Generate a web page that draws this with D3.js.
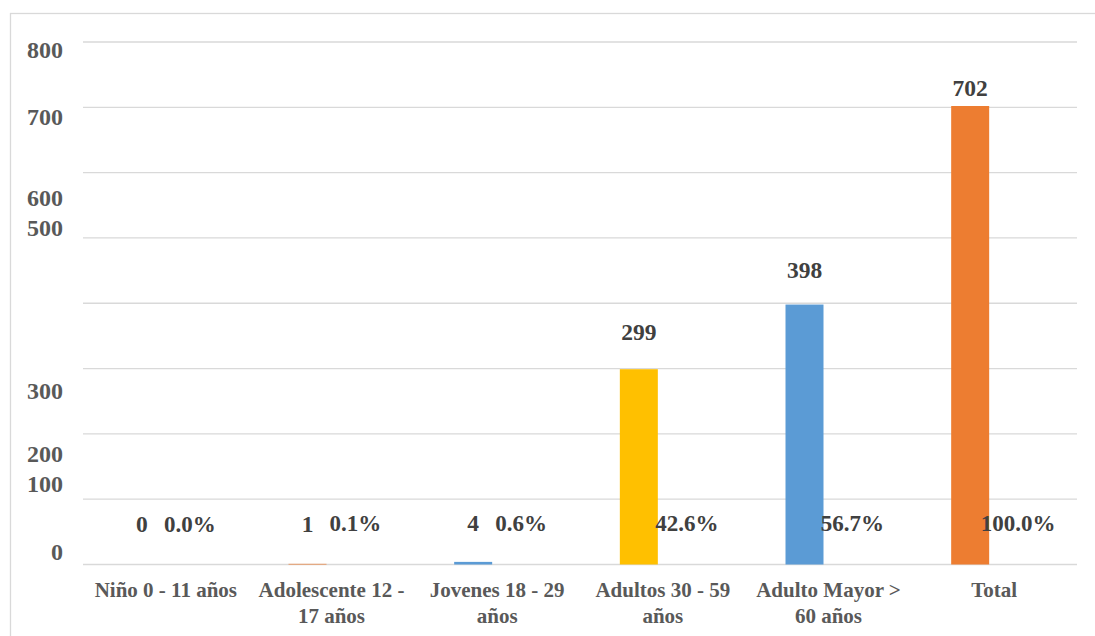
<!DOCTYPE html>
<html lang="es">
<head>
<meta charset="utf-8">
<script src="https://cdn.jsdelivr.net/npm/d3@7"></script>
<style>
  html, body { margin: 0; padding: 0; background: #ffffff; }
  svg { display: block; }
  text { font-family: "Liberation Serif", "Times New Roman", serif; font-weight: bold; }
</style>
</head>
<body>
<svg id="chart" width="1095" height="636"></svg>
<script>
// Población por grupo de edad
const categories = [
  "Niño 0 - 11 años",
  "Adolescente 12 - 17 años",
  "Jovenes 18 - 29 años",
  "Adultos 30 - 59 años",
  "Adulto Mayor > 60 años",
  "Total"
];
const counts = [0, 1, 4, 299, 398, 702];
const percents = [0.0, 0.1, 0.6, 42.6, 56.7, 100.0];
const yTickLabels = [800, 700, 600, 500, 300, 200, 100, 0];
const barColors = ["#5B9BD5", "#ED7D31", "#5B9BD5", "#FFC000", "#5B9BD5", "#ED7D31"];

// Layout
const W = 1095, H = 636;
const plot = { left: 83, right: 1077, top: 42, bottom: 564.5 };
const tickLabelNudge = { 800: 16, 700: 18, 600: 33, 500: -2, 300: 30, 200: 28, 100: -7, 0: -4.5 };
const countLabelLift = [33, 32, 31, 29, 27, 10];
const pctLabelLift = 33;

const svg = d3.select("#chart");

// chart frame
svg.append("rect")
  .attr("x", 10.5).attr("y", 13.5)
  .attr("width", W + 20).attr("height", H + 20)
  .attr("fill", "#ffffff")
  .attr("stroke", "#D9D9D9").attr("stroke-width", 1.3);

const x = d3.scaleBand()
  .domain(categories)
  .range([plot.left, plot.right])
  .paddingInner(0).paddingOuter(0);

// two slots per category: the count bar and the (near-zero) share slot
const series = ["count", "pct"];
const xs = d3.scaleBand()
  .domain(series)
  .range([0, x.bandwidth()])
  .paddingInner(10 / 48)
  .paddingOuter(0.83);

const y = d3.scaleLinear()
  .domain([0, 800])
  .range([plot.bottom, plot.top]);

// gridlines
svg.append("g")
  .selectAll("line")
  .data(y.ticks(8))
  .join("line")
  .attr("x1", plot.left).attr("x2", plot.right)
  .attr("y1", d => y(d)).attr("y2", d => y(d))
  .attr("stroke", "#D9D9D9").attr("stroke-width", 1.3);

// y tick labels
svg.append("g")
  .selectAll("text")
  .data(yTickLabels)
  .join("text")
  .attr("x", 63)
  .attr("y", d => y(d) + tickLabelNudge[d])
  .attr("text-anchor", "end")
  .attr("font-size", 24)
  .attr("fill", "#595959")
  .text(d => d);

const data = categories.map((c, i) => ({ c, n: counts[i], p: percents[i], color: barColors[i], i }));

// bars (counts)
svg.append("g")
  .selectAll("rect")
  .data(data)
  .join("rect")
  .attr("x", d => x(d.c) + xs("count"))
  .attr("width", xs.bandwidth())
  .attr("y", d => y(d.n))
  .attr("height", d => y(0) - y(d.n))
  .attr("fill", d => d.color);

// count labels
svg.append("g")
  .selectAll("text")
  .data(data)
  .join("text")
  .attr("x", d => x(d.c) + xs("count") + xs.bandwidth() / 2)
  .attr("y", d => y(d.n) - countLabelLift[d.i])
  .attr("text-anchor", "middle")
  .attr("font-size", 23.5)
  .attr("fill", "#404040")
  .text(d => d.n);

// percentage labels, placed at the share slot (shares plotted as fractions)
svg.append("g")
  .selectAll("text")
  .data(data)
  .join("text")
  .attr("x", d => x(d.c) + xs("pct") + xs.bandwidth() / 2)
  .attr("y", d => y(d.p / 100) - pctLabelLift)
  .attr("text-anchor", "middle")
  .attr("font-size", 23)
  .attr("fill", "#404040")
  .text(d => d.p.toFixed(1) + "%");

// category labels, wrapped to the band width
const catG = svg.append("g");
categories.forEach(c => {
  const cx = x(c) + x.bandwidth() / 2;
  const t = catG.append("text")
    .attr("x", cx)
    .attr("y", 597)
    .attr("text-anchor", "middle")
    .attr("font-size", 21)
    .attr("fill", "#595959");
  const words = c.split(" ");
  let line = [];
  let tspan = t.append("tspan").attr("x", cx).attr("dy", 0);
  words.forEach(w => {
    line.push(w);
    tspan.text(line.join(" "));
    if (tspan.node().getComputedTextLength() > 160 && line.length > 1) {
      line.pop();
      tspan.text(line.join(" "));
      line = [w];
      tspan = t.append("tspan")
        .attr("x", cx)
        .attr("dy", 26)
        .text(w);
    }
  });
});
</script>
</body>
</html>
